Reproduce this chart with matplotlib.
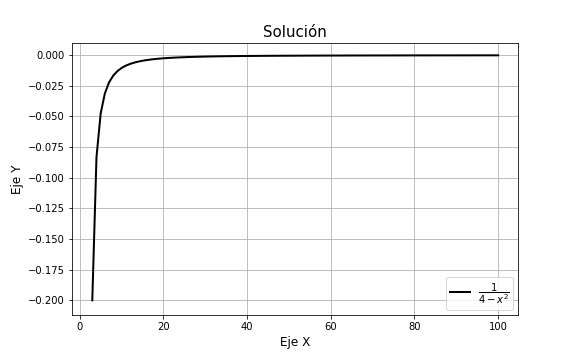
import matplotlib
matplotlib.use('Agg')
import matplotlib.pyplot as plt

x_vals = [3, 4, 5, 6, 7, 8, 9, 10, 11, 12, 13, 14, 15, 16, 17, 18, 19, 20,
          21, 22, 23, 24, 25, 26, 27, 28, 29, 30, 31, 32, 33, 34, 35, 36, 37, 38, 39, 40,
          41, 42, 43, 44, 45, 46, 47, 48, 49, 50, 51, 52, 53, 54, 55, 56, 57, 58, 59, 60,
          61, 62, 63, 64, 65, 66, 67, 68, 69, 70, 71, 72, 73, 74, 75, 76, 77, 78, 79, 80,
          81, 82, 83, 84, 85, 86, 87, 88, 89, 90, 91, 92, 93, 94, 95, 96, 97, 98, 99, 100]
y_vals = [-0.2, -0.08333, -0.04762, -0.03125, -0.02222, -0.01667, -0.01299, -0.01042,
          -0.008547, -0.007143, -0.006061, -0.005208, -0.004525, -0.003968, -0.003509,
          -0.003125, -0.002801, -0.002525,
          -0.002288, -0.002083, -0.001905, -0.001748, -0.001610, -0.001488, -0.001379,
          -0.001282, -0.001195, -0.001116, -0.001045, -0.0009804, -0.0009217, -0.0008681,
          -0.0008190, -0.0007740, -0.0007326, -0.0006944, -0.0006592, -0.0006266,
          -0.0005963, -0.0005682, -0.0005420, -0.0005176, -0.0004948, -0.0004735,
          -0.0004535, -0.0004348, -0.0004172, -0.0004006, -0.0003851, -0.0003704,
          -0.0003565, -0.0003434, -0.0003310, -0.0003193, -0.0003082, -0.0002976,
          -0.0002876, -0.0002781, -0.0002690, -0.0002604, -0.0002522, -0.0002444,
          -0.0002369, -0.0002298, -0.0002230, -0.0002165, -0.0002102, -0.0002043,
          -0.0001985, -0.0001931, -0.0001878, -0.0001828, -0.0001779, -0.0001733,
          -0.0001688, -0.0001645, -0.0001603, -0.0001564, -0.0001525, -0.0001488,
          -0.0001452, -0.0001418, -0.0001385, -0.0001353, -0.0001322, -0.0001292,
          -0.0001263, -0.0001235, -0.0001208, -0.0001182, -0.0001157, -0.0001132,
          -0.0001109, -0.0001086, -0.0001063, -0.0001042, -0.0001021, -0.0001000]

fig, ax = plt.subplots(figsize=(8, 5), dpi=72)
ax.plot(x_vals, y_vals, color='black', linewidth=2, label=r'$\dfrac{1}{4-x^2}$')
ax.set_title('Solución', fontsize=15)
ax.set_xlabel('Eje X', fontsize=12)
ax.set_ylabel('Eje Y', fontsize=12)
ax.set_ylim(-0.212, 0.0098)
ax.grid(True)
ax.legend(loc='lower right')
plt.subplots_adjust(bottom=0.125)
plt.savefig('out.png', dpi=72)
